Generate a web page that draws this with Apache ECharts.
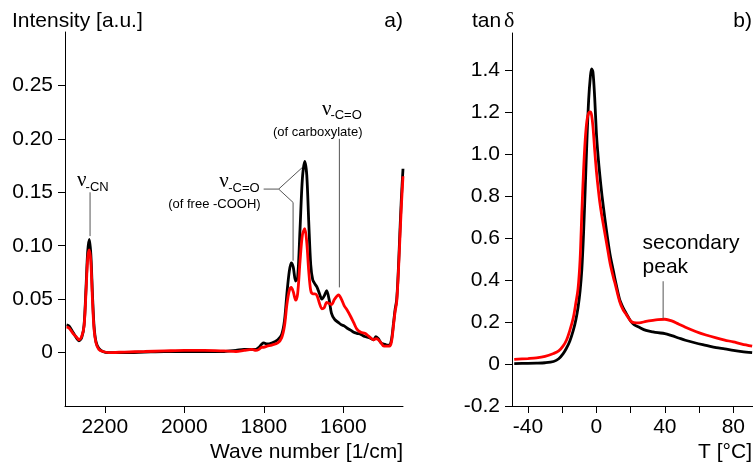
<!DOCTYPE html>
<html>
<head>
<meta charset="utf-8">
<script src="https://cdn.jsdelivr.net/npm/echarts@6/dist/echarts.min.js"></script>
<style>
html, body { margin: 0; padding: 0; background: #fff; }
#chart { width: 753px; height: 464px; }
</style>
</head>
<body>
<div id="chart"></div>
<script>
// panel a) IR spectra
const irWave = [2296, 2290, 2280, 2270, 2265, 2258, 2252, 2247, 2243, 2239, 2235, 2231, 2227, 2222, 2215, 2205, 2190, 2150, 2100, 2050,
  2000, 1950, 1900, 1870, 1850, 1830, 1820, 1812, 1805, 1800, 1792, 1780, 1765, 1755, 1748, 1742, 1736, 1731, 1726, 1720,
  1715, 1709, 1703, 1697, 1692, 1687, 1682, 1677, 1671, 1666, 1660, 1654, 1648, 1642, 1636, 1630, 1622, 1612, 1605, 1598,
  1591, 1582, 1574, 1566, 1556, 1546, 1535, 1524, 1518, 1512, 1505, 1498, 1490, 1484, 1479, 1474, 1470, 1466, 1462, 1458,
  1454, 1450]
const irBlack = [0.026, 0.025, 0.019, 0.013, 0.011, 0.014, 0.026, 0.062, 0.094, 0.106, 0.092, 0.055, 0.025, 0.010, 0.004, 0.001, 0.000, 0.000, 0.0005, 0.001,
  0.001, 0.001, 0.001, 0.002, 0.003, 0.003, 0.003, 0.005, 0.008, 0.009, 0.008, 0.009, 0.012, 0.017, 0.030, 0.055, 0.076, 0.084, 0.080, 0.067,
  0.070, 0.115, 0.163, 0.179, 0.166, 0.122, 0.082, 0.068, 0.064, 0.061, 0.055, 0.050, 0.053, 0.058, 0.050, 0.037, 0.031, 0.028, 0.026, 0.025,
  0.023, 0.021, 0.019, 0.018, 0.017, 0.015, 0.014, 0.012, 0.015, 0.013, 0.009, 0.008, 0.007, 0.007, 0.012, 0.027, 0.040, 0.049, 0.075, 0.111,
  0.145, 0.172]
const irRed = [0.024, 0.023, 0.018, 0.014, 0.012, 0.015, 0.025, 0.058, 0.088, 0.096, 0.085, 0.050, 0.022, 0.009, 0.003, 0.001, 0.000, 0.0005, 0.001, 0.0015,
  0.002, 0.002, 0.0015, 0.001, 0.002, 0.003, 0.002, 0.003, 0.005, 0.005, 0.006, 0.007, 0.009, 0.014, 0.025, 0.045, 0.058, 0.061, 0.057, 0.049,
  0.055, 0.085, 0.110, 0.116, 0.103, 0.076, 0.058, 0.055, 0.055, 0.053, 0.046, 0.041, 0.042, 0.047, 0.046, 0.045, 0.050, 0.054, 0.050, 0.044,
  0.040, 0.034, 0.028, 0.022, 0.019, 0.018, 0.015, 0.012, 0.013, 0.012, 0.009, 0.006, 0.006, 0.006, 0.010, 0.025, 0.038, 0.047, 0.072, 0.105,
  0.138, 0.165]
const irYTicks = [0, 0.05, 0.10, 0.15, 0.20, 0.25]
const irXTicks = [2200, 2000, 1800, 1600]

// panel b) tan delta
const dmaTemp = [-48, -40, -35, -30, -25, -22, -19.5, -17.5, -15.5, -13.5, -12, -10.7, -9.5, -8.5, -7.5, -6.5, -5.5, -4.5, -3.5, -2.8,
  -2, -1, 0, 1, 2, 3.3, 5, 6.5, 8, 10, 11, 13.5, 15.5, 17.5, 20, 22, 25, 29, 33, 36,
  40, 44, 48, 52, 58, 64, 70, 75, 80, 85, 91]
const dmaBlack = [0.002, 0.003, 0.004, 0.006, 0.012, 0.025, 0.048, 0.075, 0.11, 0.16, 0.21, 0.27, 0.35, 0.45, 0.62, 0.84, 1.07, 1.26, 1.37, 1.405,
  1.39, 1.27, 1.10, 0.99, 0.90, 0.80, 0.69, 0.60, 0.52, 0.44, 0.40, 0.31, 0.27, 0.24, 0.205, 0.188, 0.175, 0.16, 0.153, 0.149,
  0.145, 0.135, 0.124, 0.113, 0.10, 0.089, 0.078, 0.072, 0.065, 0.059, 0.054]
const dmaRed = [0.022, 0.026, 0.029, 0.036, 0.05, 0.062, 0.085, 0.113, 0.16, 0.22, 0.29, 0.36, 0.50, 0.72, 0.92, 1.07, 1.16, 1.195, 1.20, 1.185,
  1.13, 1.02, 0.92, 0.84, 0.77, 0.70, 0.62, 0.55, 0.48, 0.41, 0.38, 0.30, 0.26, 0.235, 0.205, 0.197, 0.196, 0.203, 0.208, 0.211,
  0.213, 0.205, 0.19, 0.175, 0.155, 0.138, 0.124, 0.114, 0.105, 0.095, 0.085]
const dmaYTicks = [-0.2, 0, 0.2, 0.4, 0.6, 0.8, 1.0, 1.2, 1.4]
const dmaXTicks = [-40, -20, 0, 20, 40, 60, 80]
const dmaXLabels = [-40, 0, 40, 80]

const SANS = '"Liberation Sans", Arial, sans-serif'
const SERIF = '"Liberation Serif", "Times New Roman", serif'

const zip = (xs, ys) => xs.map((x, i) => [x, ys[i]])

function axisCommon() {
  return {
    axisLine: { show: true, onZero: false, lineStyle: { color: '#000', width: 1 } },
    axisTick: { show: true, inside: false, length: 7, lineStyle: { color: '#000', width: 1 } },
    splitLine: { show: false },
    axisLabel: { color: '#000', fontSize: 21, fontFamily: SANS }
  }
}

function mkAxis(extra, ticks, labels, fmt, margin) {
  const a = axisCommon()
  a.axisTick.customValues = ticks
  a.axisLabel.customValues = labels
  a.axisLabel.formatter = fmt
  a.axisLabel.margin = margin
  return Object.assign(a, extra)
}

const lineSeries = (name, data, color, axis) => ({
  name: name,
  type: 'line',
  xAxisIndex: axis,
  yAxisIndex: axis,
  data: data,
  showSymbol: false,
  symbol: 'none',
  smooth: 0.3,
  lineStyle: { color: color, width: 2.8 },
  z: color === '#ff0000' ? 3 : 2
})

const option = {
  animation: false,
  backgroundColor: '#fff',
  grid: [
    { left: 65, top: 32, width: 338, height: 374 },
    { left: 512, top: 33, width: 241, height: 373 }
  ],
  xAxis: [
    mkAxis({ type: 'value', gridIndex: 0, min: 1450, max: 2300, inverse: true },
      irXTicks, irXTicks, v => String(v), 11),
    mkAxis({ type: 'value', gridIndex: 1, min: -49.3, max: 91.5 },
      dmaXTicks, dmaXLabels, v => String(v), 11)
  ],
  yAxis: [
    mkAxis({ type: 'value', gridIndex: 0, min: -0.05, max: 0.30 },
      irYTicks, irYTicks, v => (v === 0 ? '0' : v.toFixed(2)), 12),
    mkAxis({ type: 'value', gridIndex: 1, min: -0.2, max: 1.576 },
      dmaYTicks, dmaYTicks, v => (Math.abs(v) < 1e-9 ? '0' : v.toFixed(1)), 12)
  ],
  series: [
    lineSeries('IR black', zip(irWave, irBlack), '#000000', 0),
    lineSeries('IR red', zip(irWave, irRed), '#ff0000', 0),
    lineSeries('DMA black', zip(dmaTemp, dmaBlack), '#000000', 1),
    lineSeries('DMA red', zip(dmaTemp, dmaRed), '#ff0000', 1)
  ]
}

const chart = echarts.init(document.getElementById('chart'), null, { renderer: 'canvas' })
chart.setOption(option)

// annotations, anchored in data units
const px = (g, x, y) => chart.convertToPixel({ gridIndex: g }, [x, y])
const gLine = (a, b) => ({
  type: 'line', silent: true, z: 10,
  shape: { x1: a[0], y1: a[1], x2: b[0], y2: b[1] },
  style: { stroke: '#555', lineWidth: 1 }
})
const gText = (x, y, text, size, family, align) => ({
  type: 'text', silent: true, z: 10, x: x, y: y,
  style: { text: text, fill: '#000', fontSize: size, fontFamily: family, align: align || 'left', verticalAlign: 'middle' }
})

const g = []
// titles and axis names
g.push(gText(12, 21, 'Intensity [a.u.]', 21, SANS))
g.push(gText(403, 21, 'a)', 21, SANS, 'right'))
g.push(gText(403, 452, 'Wave number [1/cm]', 21, SANS, 'right'))
g.push(gText(472, 21, 'tan', 21, SANS))
g.push(gText(504, 21, 'δ', 22, SERIF))
g.push(gText(752, 21, 'b)', 21, SANS, 'right'))
g.push(gText(752, 452, 'T [°C]', 21, SANS, 'right'))

// nu-CN
const cnTop = px(0, 2237, 0.150)
g.push(gLine(cnTop, px(0, 2237, 0.109)))
g.push(gText(cnTop[0] - 13, cnTop[1] - 12, 'ν', 21, SERIF))
g.push(gText(cnTop[0] - 4.5, cnTop[1] - 5, '-CN', 13, SANS))

// nu-C=O of free -COOH
const fork = px(0, 1762.7, 0.153)
const up = px(0, 1703.8, 0.173)
const dn = px(0, 1726.4, 0.1405)
g.push(gLine([fork[0] - 15, fork[1]], fork))
g.push(gLine(fork, up))
g.push(gLine(fork, dn))
g.push(gLine(dn, px(0, 1726.4, 0.086)))
g.push(gText(fork[0] - 19, fork[1] - 1, '-C=O', 13, SANS, 'right'))
g.push(gText(fork[0] - 50, fork[1] - 8, 'ν', 21, SERIF, 'right'))
g.push(gText(fork[0] - 18, fork[1] + 15.5, '(of free -COOH)', 13, SANS, 'right'))

// nu-C=O of carboxylate
const cbTop = px(0, 1610, 0.200)
g.push(gLine(cbTop, px(0, 1610, 0.061)))
g.push(gText(cbTop[0] - 21.7, cbTop[1] - 6.5, '(of carboxylate)', 13, SANS, 'center'))
g.push(gText(cbTop[0] - 17.5, cbTop[1] - 29.5, 'ν', 21, SERIF))
g.push(gText(cbTop[0] - 9, cbTop[1] - 23, '-C=O', 13, SANS))

// secondary peak
const spTop = px(1, 39, 0.394)
g.push(gLine(spTop, px(1, 39, 0.216)))
g.push(gText(spTop[0] - 20.6, spTop[1] - 38, 'secondary', 21, SANS))
g.push(gText(spTop[0] - 20.6, spTop[1] - 14, 'peak', 21, SANS))

chart.setOption({ graphic: g })
</script>
</body>
</html>
